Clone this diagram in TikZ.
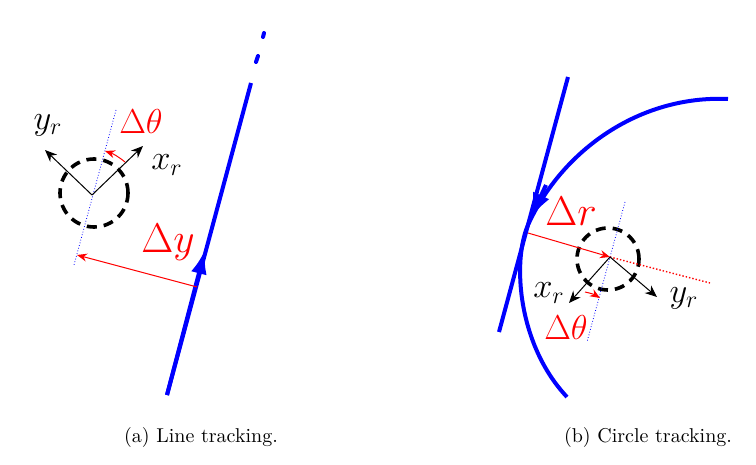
\documentclass[tikz,border=0pt]{standalone}
\usetikzlibrary{arrows.meta}
\begin{document}
\begin{tikzpicture}[x=0.5pt,y=-0.5pt,
 path/.style={blue,line width=2pt},
 axis/.style={-{Stealth[length=6pt,width=5pt]},line width=0.5pt},
 robot/.style={line width=1.8pt,dash pattern=on 5pt off 3.5pt},
 ref/.style={blue,densely dotted,line width=0.4pt},
 err/.style={red,-{Stealth[length=5pt,width=4pt]},line width=0.5pt},
 lbl/.style={font=\LARGE}]
\useasboundingbox (0,0) rectangle (756,465);
% (a)
\coordinate (a0) at (167,395); \coordinate (a1) at (251,83);
\draw[path] (a0) -- (a1);
\draw[path,-{Latex[length=12pt,width=8pt]}] (a0) -- (205,250);
\draw[path,line cap=round] (256,62) -- (258,56) (263,37) -- (264,33);
\node[robot,draw,circle,minimum size=34pt,inner sep=0pt] (r1) at (94,193) {};
\coordinate (o1) at (92,195);
\draw[ref] (116,110) -- (74,265);
\draw[axis] (o1) -- (143,146) coordinate (x1);
\draw[axis] (o1) -- (45,150) coordinate (y1);
\draw[err] (125,162) to[bend right=10] (105,151);
\coordinate (p1) at (197,287);
\draw[err] (p1) -- (77,255);
\node[lbl] at (48,125) {$y_r$};
\node[lbl] at (167,165) {$x_r$};
\node[lbl,red] at (141,122) {$\Delta\theta$};
\node[font=\huge,red] at (168,242) {$\Delta y$};
\node at (201,437) {(a) Line tracking.};
% (b)
\draw[path] (568,77) -- (499,332);
\draw[path] (728,99) .. controls (640,95) and (562,150) .. (528,225)
  .. controls (512,262) and (518,345) .. (567,397);
\draw[path,-{Latex[length=13pt,width=9pt]}] (546,185) -- (530,219);
\node[robot,draw,circle,minimum size=31pt,inner sep=0pt] (r2) at (608,259) {};
\coordinate (o2) at (610,257);
\draw[ref] (625,202) -- (587,342);
\coordinate (t2) at (528,233);
\draw[err] (t2) -- (o2);
\draw[red,densely dotted,line width=0.7pt] (o2) -- (710,283);
\draw[axis] (o2) -- (569,303);
\draw[axis] (o2) -- (657,297);
\draw[err] (585,292) to[bend left=10] (600,298);
\node[font=\huge,red] at (571,211) {$\Delta r$};
\node[lbl] at (549,293) {$x_r$};
\node[lbl] at (684,298) {$y_r$};
\node[lbl,red] at (566,327) {$\Delta\theta$};
\node at (648,437) {(b) Circle tracking.};
\end{tikzpicture}
\end{document}
